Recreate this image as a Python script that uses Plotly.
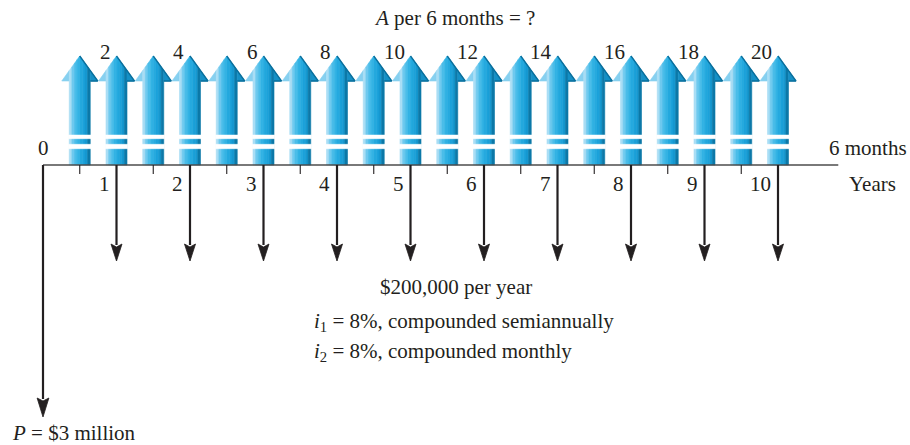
import plotly.graph_objects as go

# ---------------- data ----------------
half_year_periods = [1, 2, 3, 4, 5, 6, 7, 8, 9, 10, 11, 12, 13, 14, 15, 16, 17, 18, 19, 20]
period_labels = [2, 4, 6, 8, 10, 12, 14, 16, 18, 20]
years = [1, 2, 3, 4, 5, 6, 7, 8, 9, 10]
withdrawals = [200000, 200000, 200000, 200000, 200000, 200000, 200000, 200000, 200000, 200000]
present_value = 3000000

# schematic (not-to-scale) arrow lengths in axis units
UP_LEN = 109
UP_HEAD_BASE = 84
WITHDRAW_LEN = 96
P_LEN = 252

FONT = "Liberation Serif"
INK = "#231f20"

fig = go.Figure()

# ---------------- up arrows (gradient imitation with vertical strips) ----------------
H = 0.245   # head half-width (years)
W = 0.143   # shaft half-width (years)
r = W / H
n_shaft = 8
bounds = [-1.0] + [-r + 2 * r * k / n_shaft for k in range(n_shaft + 1)] + [1.0]
strip_colors = ["#86d0f0",
                "#a9def5", "#6fcaef", "#4bbde9", "#33b3e4",
                "#25aadf", "#1ca2da", "#1698d0", "#0c78a8",
                "#1590c6"]


def top_at(u):
    return UP_LEN - (UP_LEN - UP_HEAD_BASE) * abs(u)


for i in range(len(bounds) - 1):
    ua, ub = bounds[i], bounds[i + 1]
    in_shaft = (ua >= -r - 1e-9) and (ub <= r + 1e-9)
    bottom = 0 if in_shaft else UP_HEAD_BASE
    xs, ys = [], []
    for p in half_year_periods:
        t = p / 2
        xa, xb = t + ua * H, t + ub * H
        xs += [xa, xb, xb, xa, xa, None]
        ys += [bottom, bottom, top_at(ub), top_at(ua), bottom, None]
    fig.add_trace(go.Scatter(x=xs, y=ys, mode="lines", fill="toself",
                             fillcolor=strip_colors[i],
                             line=dict(color=strip_colors[i], width=0.6),
                             hoverinfo="skip", showlegend=False))

# dark right bevel of arrow heads
xs, ys = [], []
for p in half_year_periods:
    t = p / 2
    xs += [t, t + H, t + W, None]
    ys += [UP_LEN, UP_HEAD_BASE, UP_HEAD_BASE, None]
fig.add_trace(go.Scatter(x=xs, y=ys, mode="lines",
                         line=dict(color="#0a6f9c", width=1.3),
                         hoverinfo="skip", showlegend=False))

# white break bands in the shafts
xs, ys = [], []
for p in half_year_periods:
    t = p / 2
    for (y0, y1) in [(16.3, 20.7), (26.3, 30.0)]:
        xa, xb = t - W - 0.01, t + W + 0.01
        xs += [xa, xb, xb, xa, xa, None]
        ys += [y0, y0, y1, y1, y0, None]
fig.add_trace(go.Scatter(x=xs, y=ys, mode="lines", fill="toself",
                         fillcolor="white", line=dict(color="white", width=0.5),
                         hoverinfo="skip", showlegend=False))

# ---------------- time axis ----------------
fig.add_trace(go.Scatter(x=[0, 10.82], y=[0, 0], mode="lines",
                         line=dict(color="#4d4d4d", width=1.6),
                         hoverinfo="skip", showlegend=False))
xs, ys = [], []
for p in half_year_periods:
    if p % 2 == 1:
        xs += [p / 2, p / 2, None]
        ys += [0, -9, None]
fig.add_trace(go.Scatter(x=xs, y=ys, mode="lines",
                         line=dict(color=INK, width=1.1),
                         hoverinfo="skip", showlegend=False))

# ---------------- down arrows ----------------
def down_arrow(xpos, length, hw=0.075, hl=17, notch=3):
    sx = [xpos, xpos, None]
    sy = [0, -(length - hl + 1), None]
    hx = [xpos - hw, xpos, xpos + hw, xpos, xpos - hw, None]
    hy = [-(length - hl), -length, -(length - hl), -(length - hl + notch), -(length - hl), None]
    return sx, sy, hx, hy


shaft_x, shaft_y, head_x, head_y = [], [], [], []
for yr, w in zip(years, withdrawals):
    sx, sy, hx, hy = down_arrow(yr, WITHDRAW_LEN)
    shaft_x += sx; shaft_y += sy; head_x += hx; head_y += hy
sx, sy, hx, hy = down_arrow(0, P_LEN, hw=0.08, hl=19)
shaft_x += sx; shaft_y += sy; head_x += hx; head_y += hy

fig.add_trace(go.Scatter(x=shaft_x, y=shaft_y, mode="lines",
                         line=dict(color=INK, width=2.2),
                         hoverinfo="skip", showlegend=False))
fig.add_trace(go.Scatter(x=head_x, y=head_y, mode="lines", fill="toself",
                         fillcolor=INK, line=dict(color=INK, width=0.8),
                         hoverinfo="skip", showlegend=False))

# ---------------- text ----------------
font = dict(family=FONT, size=21, color=INK)
ann = []
for lab in period_labels:
    ann.append(dict(x=lab / 2, y=113, text=str(lab), xanchor="right", yanchor="middle",
                    xshift=-4, showarrow=False, font=font))
for yr in years:
    ann.append(dict(x=yr, y=-19, text=str(yr), xanchor="right", yanchor="middle",
                    xshift=-5, showarrow=False, font=font))
ann += [
    dict(x=0, y=17, text="0", xanchor="center", yanchor="middle", showarrow=False, font=font),
    dict(x=11.78, y=17, text="6 months", xanchor="right", yanchor="middle", showarrow=False, font=font),
    dict(x=11.63, y=-19, text="Years", xanchor="right", yanchor="middle", showarrow=False, font=font),
    dict(x=5.605, y=147, text="<i>A</i> per 6 months = ?", xanchor="center", yanchor="middle",
         showarrow=False, font=font),
    dict(x=5.62, y=-122, text="$200,000 per year", xanchor="center", yanchor="middle",
         showarrow=False, font=font),
    dict(x=3.66, y=-157, text="<i>i</i><sub>1</sub> = 8%, compounded semiannually",
         xanchor="left", yanchor="middle", showarrow=False, font=font),
    dict(x=3.66, y=-187, text="<i>i</i><sub>2</sub> = 8%, compounded monthly",
         xanchor="left", yanchor="middle", showarrow=False, font=font),
    dict(x=-0.45, y=-268, text="<i>P</i> = $3 million", xanchor="left", yanchor="middle",
         showarrow=False, font=font),
]

fig.update_layout(
    width=910, height=445,
    margin=dict(l=0, r=0, t=0, b=0),
    paper_bgcolor="white", plot_bgcolor="white",
    xaxis=dict(range=[-43 / 73.5, (910 - 43) / 73.5], visible=False, fixedrange=True),
    yaxis=dict(range=[-280, 165], visible=False, fixedrange=True),
    annotations=ann,
    showlegend=False,
)

fig.write_html("out.html",
               config={"displayModeBar": False},
               post_script="document.body.style.margin='0';document.body.style.overflow='hidden';")
